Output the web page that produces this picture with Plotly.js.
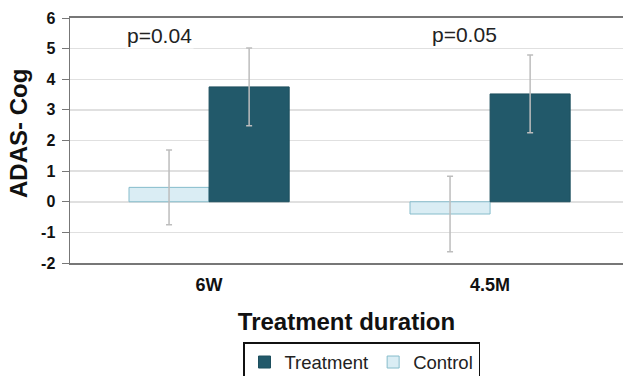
<!DOCTYPE html>
<html>
<head>
<meta charset="utf-8">
<script src="https://cdn.plot.ly/plotly-3.0.1.min.js"></script>
<style>html,body{margin:0;padding:0;background:#fff;}#chart{width:623px;height:376px;}</style>
</head>
<body>
<div id="chart"></div>
<script>
const categories = ['6W', '4.5M'];
const controlValues = [0.47, -0.4];
const controlErrors = [1.22, 1.23];
const treatmentValues = [3.75, 3.52];
const treatmentErrors = [1.27, 1.27];
const yTickValues = [-2, -1, 0, 1, 2, 3, 4, 5, 6];
const yTickLabels = ['-2', '-1', '0', '1', '2', '3', '4', '5', '6'];
const pLabels = ['p=0.04', 'p=0.05'];
const pLabelX = [-0.175, 0.91];
const pLabelY = [5.43, 5.45];
const yTitleText = 'ADAS- Cog';

const FONT = 'Liberation Sans, Arial, sans-serif';
const errStyle = {type: 'data', visible: true, color: '#bdbdbd', thickness: 1.5, width: 3};

const traces = [
  {
    type: 'bar', name: 'Control', x: categories, y: controlValues,
    marker: {color: '#daedf4', line: {color: '#86bccb', width: 1}},
    error_y: Object.assign({array: controlErrors}, errStyle)
  },
  {
    type: 'bar', name: 'Treatment', x: categories, y: treatmentValues,
    marker: {color: '#22596a', line: {color: '#1d4f5e', width: 1}},
    error_y: Object.assign({array: treatmentErrors}, errStyle)
  }
];

const annotations = pLabels.map((t, i) => ({
  text: t, x: pLabelX[i], y: pLabelY[i], xref: 'x', yref: 'y',
  showarrow: false, bgcolor: '#ffffff', borderpad: 1,
  font: {family: FONT, size: 21, color: '#222'}
}));
annotations.push({
  text: yTitleText, textangle: -90, showarrow: false,
  xref: 'paper', yref: 'paper', x: (18 - 70) / 553, y: (263 - 134) / 245,
  xanchor: 'center', yanchor: 'middle',
  font: {family: FONT, size: 24, color: '#111', weight: 'bold'}
});

const layout = {
  width: 623, height: 376,
  margin: {l: 70, r: 0, t: 18, b: 113},
  paper_bgcolor: '#fff', plot_bgcolor: '#fff',
  barmode: 'group', bargap: 0.43, bargroupgap: 0,
  showlegend: true,
  legend: {
    orientation: 'h', traceorder: 'reversed',
    xref: 'container', yref: 'container',
    x: 243/623, y: 1 - 342/376, xanchor: 'left', yanchor: 'top',
    bordercolor: '#111', borderwidth: 1.5, bgcolor: '#fff',
    font: {family: FONT, size: 18.5, color: '#222'}
  },
  xaxis: {
    type: 'category', range: [-0.495, 1.473],
    showline: true, mirror: true, linecolor: '#777', linewidth: 2,
    ticks: '', showgrid: false, ticklabelstandoff: 4,
    tickfont: {family: FONT, size: 18, color: '#111', weight: 'bold'},
    title: {text: 'Treatment duration', font: {family: FONT, size: 24, color: '#111', weight: 'bold'}, standoff: 20}
  },
  yaxis: {
    range: [-2, 6], tickmode: 'array', tickvals: yTickValues, ticktext: yTickLabels,
    zeroline: false,
    showline: true, linecolor: '#777', linewidth: 1.5,
    ticks: 'outside', ticklen: 7, tickcolor: '#777', tickwidth: 1,
    ticklabelstandoff: 3,
    showgrid: true, gridcolor: '#e0e0e0', gridwidth: 1.5,
    tickfont: {family: FONT, size: 16, color: '#111', weight: 'bold'}
  },
  annotations: annotations
};

Plotly.newPlot('chart', traces, layout, {displayModeBar: false, staticPlot: true});
</script>
</body>
</html>
